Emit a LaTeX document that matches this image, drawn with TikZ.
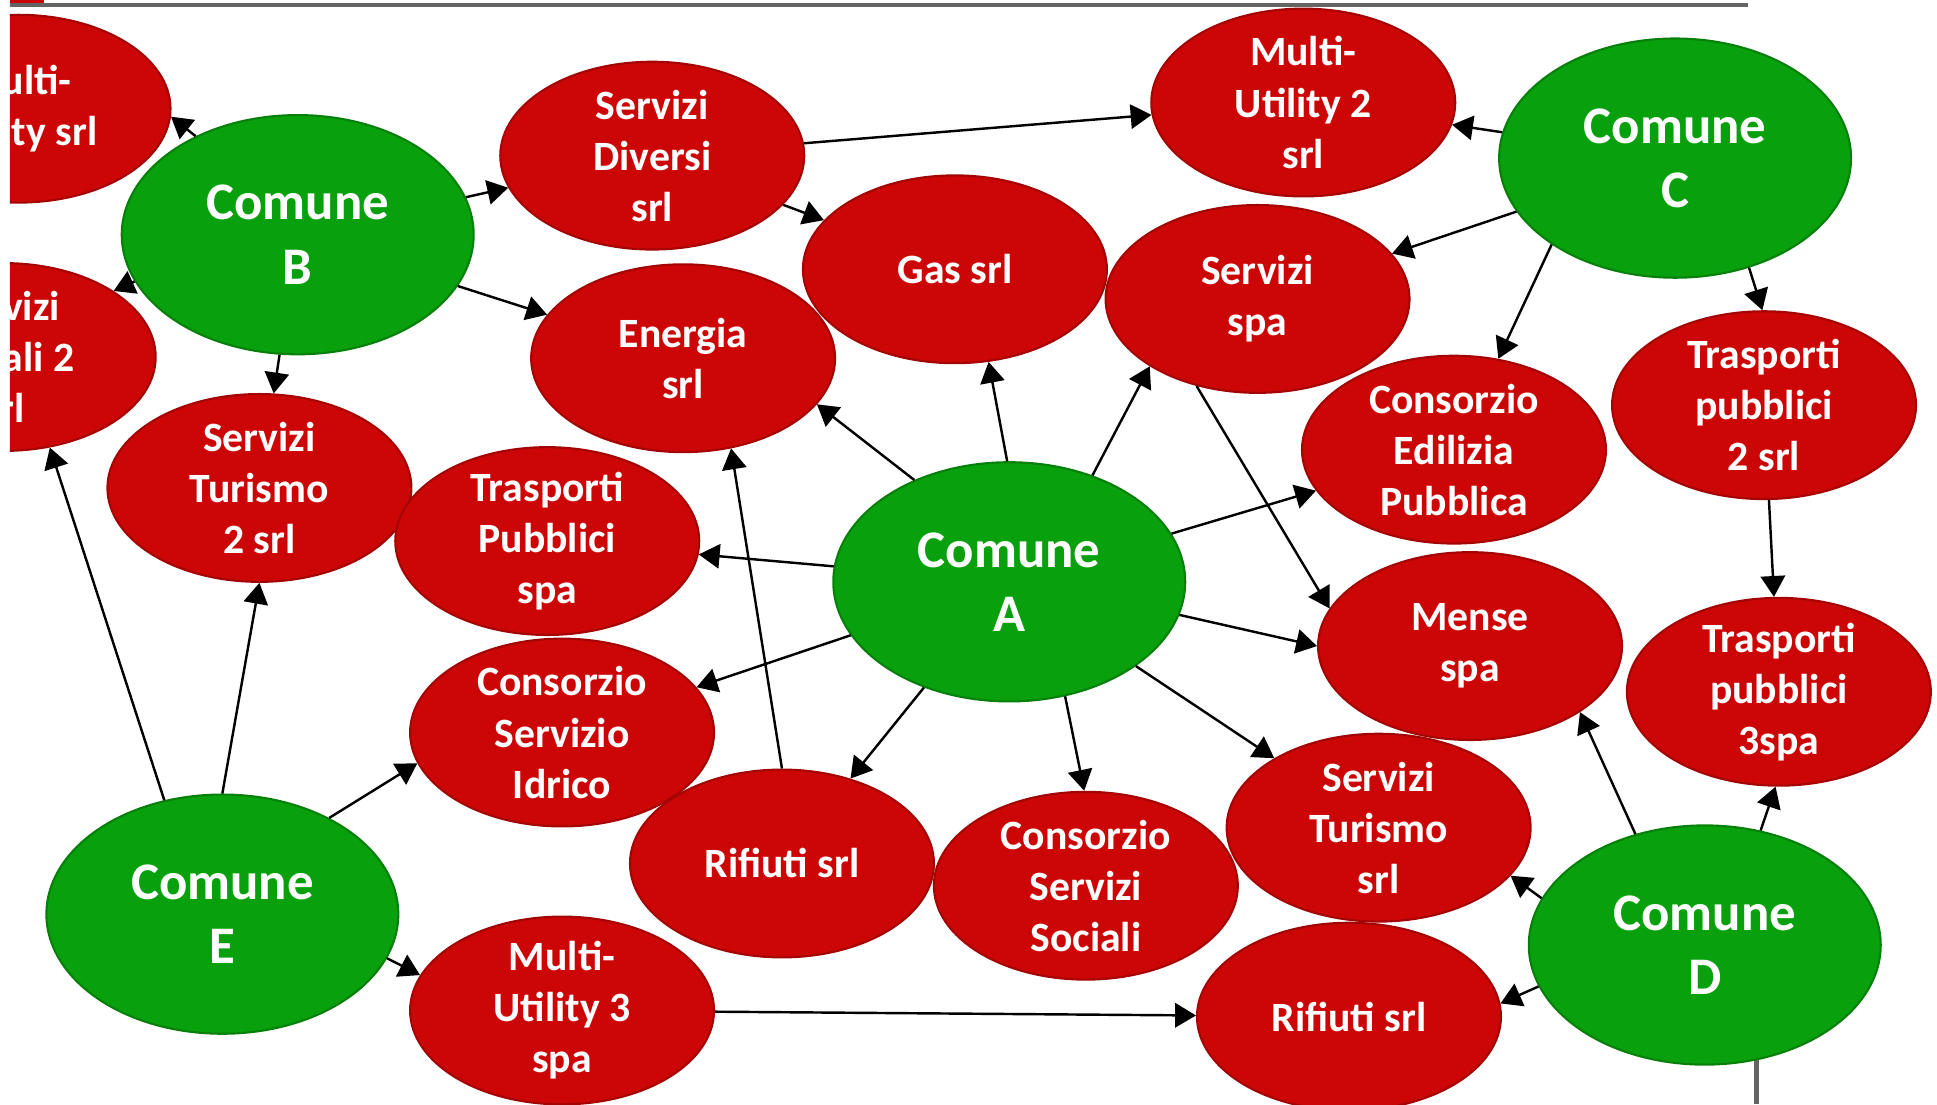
\documentclass[tikz,border=0pt]{standalone}
\usepackage{fontspec}
\setmainfont{Carlito}
\usepackage{tikz}
\usetikzlibrary{shapes.geometric, arrows.meta}
\definecolor{socred}{RGB}{204,6,6}
\definecolor{comgreen}{RGB}{8,160,12}
\definecolor{framegrey}{RGB}{100,100,100}
\tikzstyle{company} = [ellipse, minimum width=3.075cm, minimum height=1.9cm, inner sep=-3pt, align=center, text=white, font=\fontsize{12pt}{14.7pt}\selectfont\bfseries, fill=socred, draw=socred!80!black, line width=0.6pt]
\tikzstyle{comune} = [ellipse, minimum width=3.56cm, minimum height=2.42cm, inner sep=0pt, align=center, text=white, font=\fontsize{15.2pt}{18.5pt}\selectfont\bfseries, fill=comgreen, draw=comgreen!80!black, line width=0.6pt]
\tikzstyle{link} = [line width=0.7pt, -{Triangle[length=6pt, width=7pt]}]

\begin{document}
\begin{tikzpicture}[x=0.0125cm, y=-0.0125cm]
  \useasboundingbox (0,0) rectangle (1568,894);
  % what is left of the slide frame
  \fill[framegrey] (8,2.7) rectangle (1415,5.3);
  \fill[socred] (8,0) rectangle (36,2.7);
  \fill[framegrey] (1420,700) rectangle (1424,894);
  \begin{scope}
    \clip (8,0) rectangle (1568,894);
    % Comuni
    \node[comune] (ca) at (817,471) {Comune\\A};
    \node[comune] (cb) at (241,190) {Comune\\B};
    \node[comune] (cc) at (1356,128) {Comune\\C};
    \node[comune] (cd) at (1380,765) {Comune\\D};
    \node[comune] (ce) at (180,740) {Comune\\E};
    % Societa
    \node[company] (mua) at (15,88) {Multi-\\Utility srl};
    \node[company] (ssb) at (3,289) {Servizi\\Sociali 2\\srl};
    \node[company] (sd) at (528,126) {Servizi\\Diversi\\srl};
    \node[company] (mub) at (1055,83) {Multi-\\Utility 2\\srl};
    \node[company] (gas) at (773,218) {Gas srl};
    \node[company] (ss) at (1018,242) {Servizi\\spa};
    \node[company] (en) at (553,290) {Energia\\srl};
    \node[company] (stb) at (210,395) {Servizi\\Turismo\\2 srl};
    \node[company] (tp) at (443,438) {Trasporti\\Pubblici\\spa};
    \node[company] (cep) at (1177,364) {Consorzio\\Edilizia\\Pubblica};
    \node[company] (tpb) at (1428,328) {Trasporti\\pubblici\\2 srl};
    \node[company] (me) at (1190,523) {Mense\\spa};
    \node[company] (tpc) at (1440,560) {Trasporti\\pubblici\\3spa};
    \node[company] (csi) at (455,593) {Consorzio\\Servizio\\Idrico};
    \node[company] (rfa) at (633,699) {Rifiuti srl};
    \node[company] (css) at (879,717) {Consorzio\\Servizi\\Sociali};
    \node[company] (st) at (1116,670) {Servizi\\Turismo\\srl};
    \node[company] (muc) at (455,818) {Multi-\\Utility 3\\spa};
    \node[company] (rfb) at (1092,823) {Rifiuti srl};

    % Comune B
    \draw[link] (cb.136) -- (mua.-3);
    \draw[link] (cb.196) -- (ssb.31);
    \draw[link] (cb) -- (sd);
    \draw[link] (cb) -- (en);
    \draw[link] (cb) -- (stb);
    \draw[link] (sd) -- (mub);
    \draw[link] (sd) -- (gas);
    % Comune C
    \draw[link] (cc) -- (mub);
    \draw[link] (cc) -- (ss);
    \draw[link] (cc.215) -- (cep.64);
    \draw[link] (cc.-56) -- (tpb.91);
    \draw[link] (tpb) -- (tpc);
    % Comune A
    \draw[link] (ca.133) -- (en.-19);
    \draw[link] (ca.91) -- (gas.-70);
    \draw[link] (ca.52) -- (ss.212);
    \draw[link] (ca) -- (cep);
    \draw[link] (ca.-11) -- (me.180);
    \draw[link] (ca) -- (st);
    \draw[link] (ca.-64) -- (css.91);
    \draw[link] (ca) -- (rfa);
    \draw[link] (ca) -- (csi);
    \draw[link] (ca) -- (tp);
    \draw[link] (ss.235) -- (me.165);
    \draw[link] (rfa.90) -- (en.-62);
    % Comune E
    \draw[link] (ce.117) -- (ssb.-63);
    \draw[link] (ce.90) -- (stb.-90);
    \draw[link] (ce.42) -- (csi.192);
    \draw[link] (ce.-15) -- (muc.166);
    \draw[link] (muc) -- (rfb);
    % Comune D
    \draw[link] (cd.122) -- (me.-31);
    \draw[link] (cd.64) -- (tpc.268);
    \draw[link] (cd.164) -- (st.-20);
    \draw[link] (cd.194) -- (rfb.5);
  \end{scope}
\end{tikzpicture}
\end{document}
